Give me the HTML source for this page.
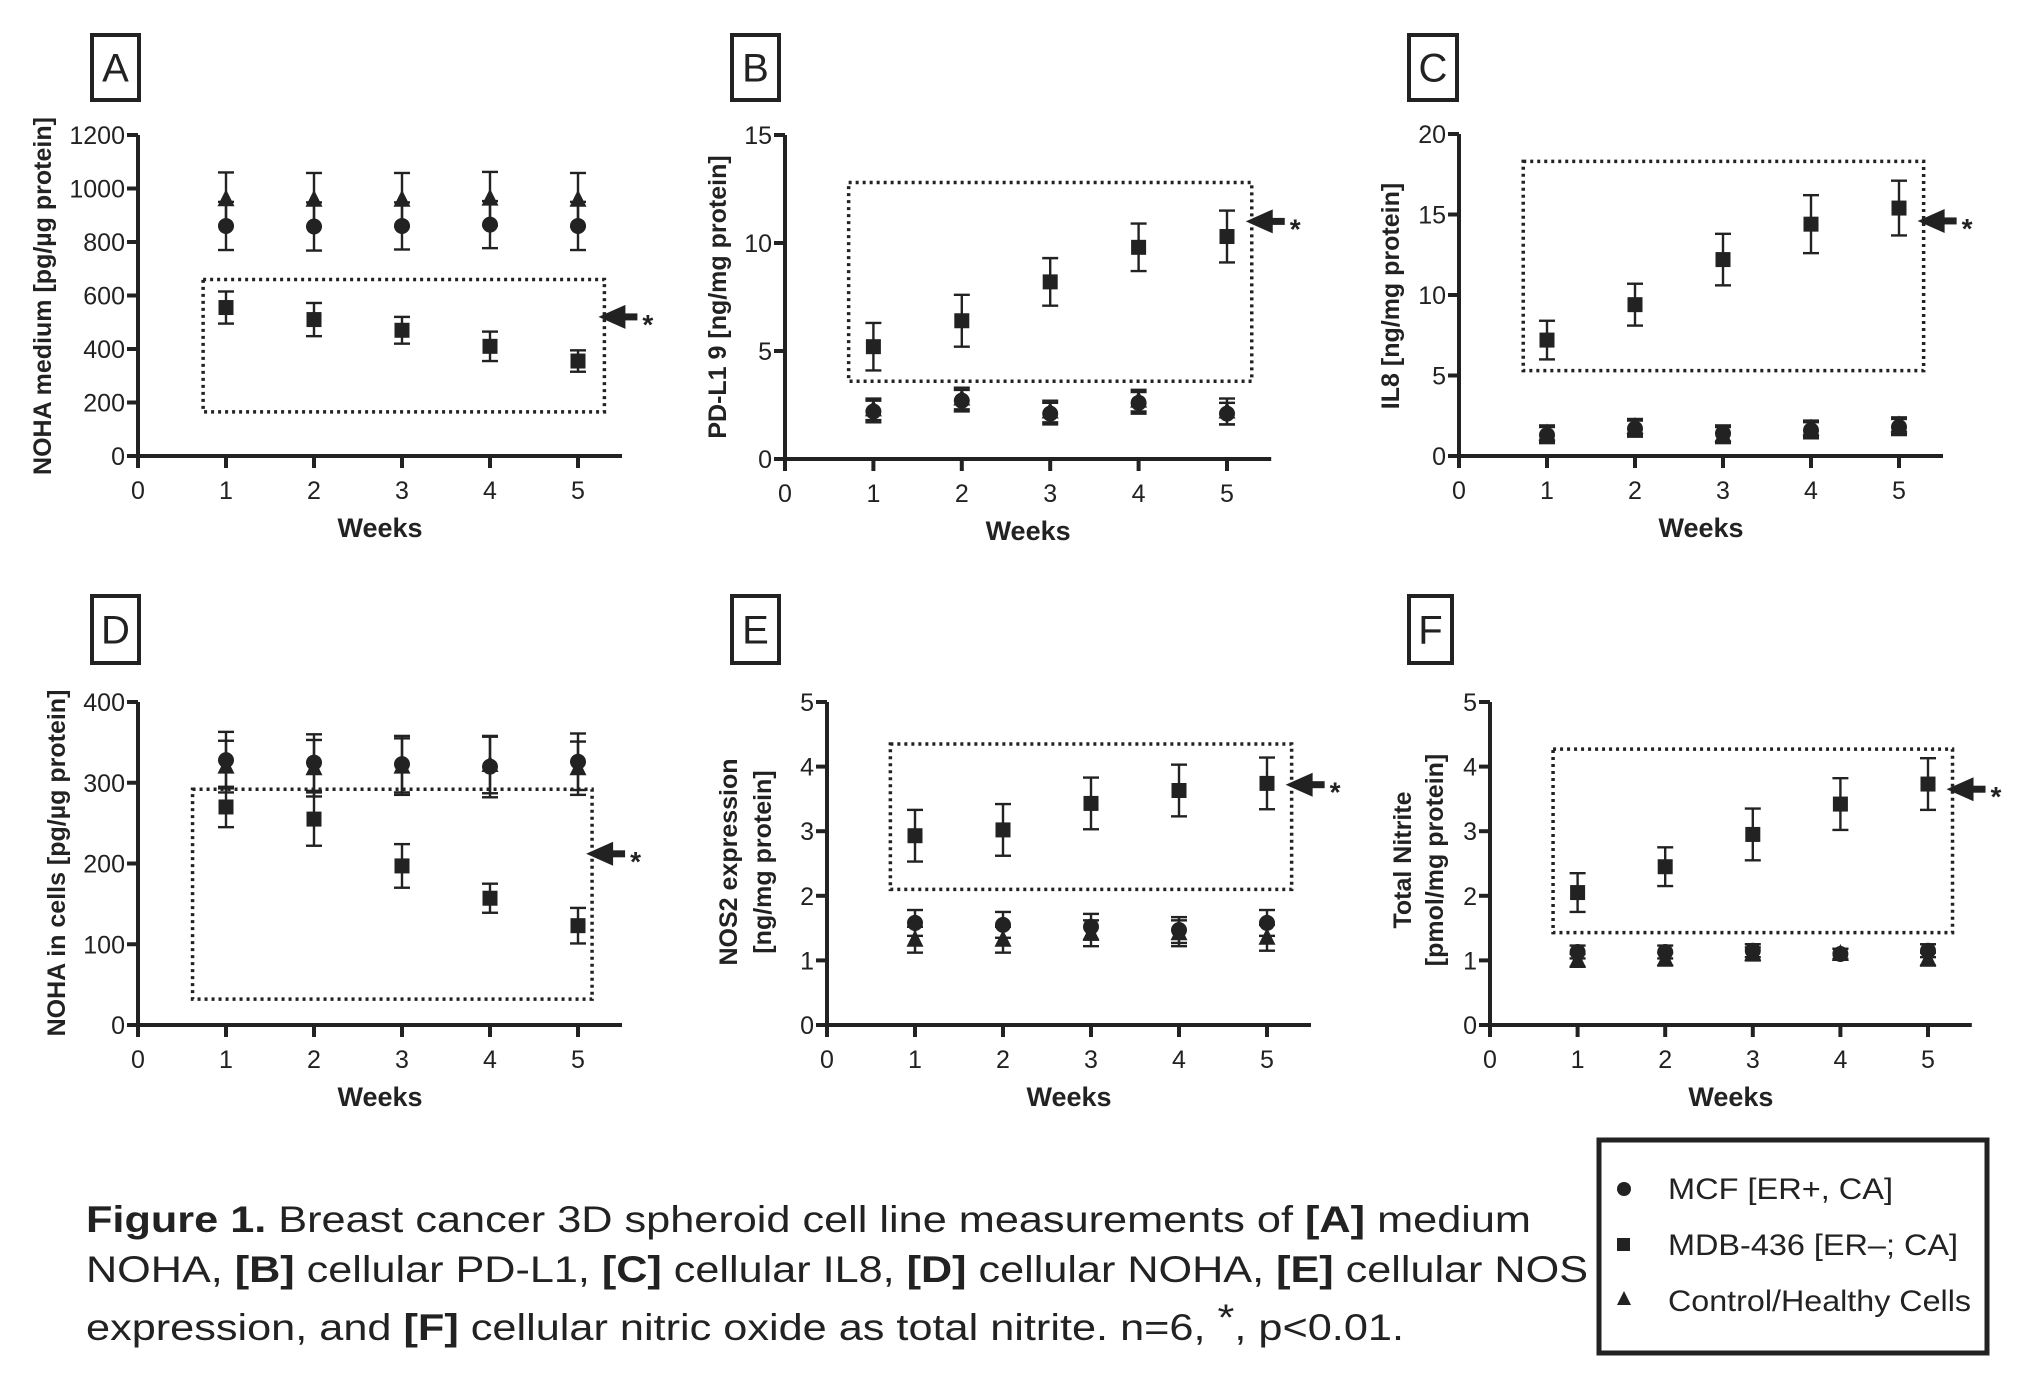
<!DOCTYPE html>
<html><head><meta charset="utf-8"><style>
html,body{margin:0;padding:0;background:#fff;}
svg{display:block;font-family:"Liberation Sans",Arial,sans-serif;}
</style></head><body>
<svg id="fig" width="2023" height="1388" viewBox="0 0 2023 1388" xmlns="http://www.w3.org/2000/svg">
<rect width="2023" height="1388" fill="#fff"/>
<g id="panels"></g>
<g fill="#222" font-size="37">
<text x="86" y="1232" textLength="1445" lengthAdjust="spacingAndGlyphs"><tspan font-weight="bold">Figure 1.</tspan> Breast cancer 3D spheroid cell line measurements of <tspan font-weight="bold">[A]</tspan> medium</text>
<text x="86" y="1282" textLength="1502" lengthAdjust="spacingAndGlyphs">NOHA, <tspan font-weight="bold">[B]</tspan> cellular PD-L1, <tspan font-weight="bold">[C]</tspan> cellular IL8, <tspan font-weight="bold">[D]</tspan> cellular NOHA, <tspan font-weight="bold">[E]</tspan> cellular NOS</text>
<text x="86" y="1340" textLength="1318" lengthAdjust="spacingAndGlyphs">expression, and <tspan font-weight="bold">[F]</tspan> cellular nitric oxide as total nitrite. n=6, <tspan dy="-10">*</tspan><tspan dy="10">, p&lt;0.01.</tspan></text>
</g>
<g>
<rect x="1599" y="1140" width="388" height="213" fill="#fff" stroke="#222" stroke-width="5"/>
<circle cx="1624" cy="1189" r="7" fill="#222"/>
<text x="1668" y="1199" font-size="30" fill="#222" textLength="225" lengthAdjust="spacingAndGlyphs">MCF [ER+, CA]</text>
<rect x="1617" y="1238" width="13" height="13" fill="#222"/>
<text x="1668" y="1255" font-size="30" fill="#222" textLength="290" lengthAdjust="spacingAndGlyphs">MDB-436 [ER–; CA]</text>
<polygon points="1624,1291 1631,1305 1617,1305" fill="#222"/>
<text x="1668" y="1311" font-size="30" fill="#222" textLength="303" lengthAdjust="spacingAndGlyphs">Control/Healthy Cells</text>
</g>
</svg>
<script>
// ---- Panel A: NOHA medium
const weeks = [1, 2, 3, 4, 5];
const aCircle = [860, 858, 860, 865, 860];
const aCircleErr = [90, 90, 88, 88, 90];
const aTri = [960, 958, 958, 962, 958];
const aTriErr = [100, 100, 100, 100, 100];
const aSquare = [555, 510, 470, 410, 355];
const aSquareErr = [60, 62, 50, 55, 40];
const aTicks = [0, 200, 400, 600, 800, 1000, 1200];
// ---- Panel B: PD-L1
const bCircle = [2.2, 2.7, 2.1, 2.6, 2.1];
const bCircleErr = [0.5, 0.5, 0.5, 0.5, 0.5];
const bTri = [2.3, 2.8, 2.2, 2.7, 2.2];
const bTriErr = [0.5, 0.5, 0.5, 0.5, 0.6];
const bSquare = [5.2, 6.4, 8.2, 9.8, 10.3];
const bSquareErr = [1.1, 1.2, 1.1, 1.1, 1.2];
const bTicks = [0, 5, 10, 15];
// ---- Panel C: IL8
const cCircle = [1.3, 1.7, 1.4, 1.6, 1.8];
const cCircleErr = [0.5, 0.5, 0.5, 0.5, 0.5];
const cTri = [1.4, 1.8, 1.3, 1.7, 1.9];
const cTriErr = [0.5, 0.5, 0.5, 0.5, 0.5];
const cSquare = [7.2, 9.4, 12.2, 14.4, 15.4];
const cSquareErr = [1.2, 1.3, 1.6, 1.8, 1.7];
const cTicks = [0, 5, 10, 15, 20];
// ---- Panel D: NOHA in cells
const dCircle = [328, 325, 323, 320, 326];
const dCircleErr = [35, 35, 35, 38, 35];
const dTri = [320, 318, 320, 322, 318];
const dTriErr = [32, 35, 35, 35, 33];
const dSquare = [270, 255, 197, 157, 123];
const dSquareErr = [25, 33, 27, 18, 22];
const dTicks = [0, 100, 200, 300, 400];
// ---- Panel E: NOS2
const eCircle = [1.58, 1.55, 1.52, 1.47, 1.58];
const eCircleErr = [0.2, 0.2, 0.2, 0.2, 0.2];
const eTri = [1.32, 1.32, 1.42, 1.42, 1.35];
const eTriErr = [0.2, 0.2, 0.2, 0.2, 0.2];
const eSquare = [2.93, 3.02, 3.43, 3.63, 3.74];
const eSquareErr = [0.4, 0.4, 0.4, 0.4, 0.4];
const eTicks = [0, 1, 2, 3, 4, 5];
// ---- Panel F: Total nitrite
const fCircle = [1.13, 1.13, 1.15, 1.1, 1.15];
const fCircleErr = [0.1, 0.1, 0.1, 0.08, 0.1];
const fTri = [1.0, 1.02, 1.1, 1.1, 1.02];
const fTriErr = [0.1, 0.1, 0.1, 0.08, 0.1];
const fSquare = [2.05, 2.45, 2.95, 3.42, 3.73];
const fSquareErr = [0.3, 0.3, 0.4, 0.4, 0.4];
const fTicks = [0, 1, 2, 3, 4, 5];
const xTicks = [0, 1, 2, 3, 4, 5];

const NS = "http://www.w3.org/2000/svg";
const root = document.getElementById('panels');
function mk(tag, attrs, parent) {
  const e = document.createElementNS(NS, tag);
  for (const k in attrs) e.setAttribute(k, attrs[k]);
  parent.appendChild(e);
  return e;
}
const C = '#222';

const panels = [
  {id:'a', L:'A', ox:138, unit:88, yTop:135, y0:456, ymax:1200, ticks:aTicks, box:[92,35,47,65],
   title:['NOHA  medium [pg/µg protein]'], tx:[42], ty:296,
   ser:[[aTri,aTriErr,'tri'],[aCircle,aCircleErr,'circle'],[aSquare,aSquareErr,'square']],
   dot:[0.74,5.3,660,165], arrow:520},
  {id:'b', L:'B', ox:785, unit:88.4, yTop:135, y0:459, ymax:15, ticks:bTicks, box:[732,35,47,65],
   title:['PD-L1 9 [ng/mg protein]'], tx:[717], ty:297,
   ser:[[bTri,bTriErr,'tri'],[bCircle,bCircleErr,'circle'],[bSquare,bSquareErr,'square']],
   dot:[0.72,5.28,12.8,3.6], arrow:11.0},
  {id:'c', L:'C', ox:1459, unit:88, yTop:134, y0:456, ymax:20, ticks:cTicks, box:[1409,35,48,65],
   title:['IL8 [ng/mg protein]'], tx:[1390], ty:296,
   ser:[[cTri,cTriErr,'tri'],[cCircle,cCircleErr,'circle'],[cSquare,cSquareErr,'square']],
   dot:[0.73,5.28,18.3,5.3], arrow:14.6},
  {id:'d', L:'D', ox:138, unit:88, yTop:702, y0:1025, ymax:400, ticks:dTicks, box:[92,596,47,67],
   title:['NOHA  in cells [pg/µg protein]'], tx:[56], ty:863,
   ser:[[dTri,dTriErr,'tri'],[dCircle,dCircleErr,'circle'],[dSquare,dSquareErr,'square']],
   dot:[0.62,5.16,292,32], arrow:212},
  {id:'e', L:'E', ox:827, unit:88, yTop:702, y0:1025, ymax:5, ticks:eTicks, box:[732,596,47,67],
   title:['NOS2 expression','[ng/mg protein]'], tx:[728,762], ty:862,
   ser:[[eTri,eTriErr,'tri'],[eCircle,eCircleErr,'circle'],[eSquare,eSquareErr,'square']],
   dot:[0.72,5.28,4.35,2.1], arrow:3.72},
  {id:'f', L:'F', ox:1490, unit:87.6, yTop:702, y0:1025, ymax:5, ticks:fTicks, box:[1409,596,43,67],
   title:['Total Nitrite','[pmol/mg protein]'], tx:[1402,1434], ty:860,
   ser:[[fTri,fTriErr,'tri'],[fCircle,fCircleErr,'circle'],[fSquare,fSquareErr,'square']],
   dot:[0.72,5.28,4.27,1.43], arrow:3.65}
];

panels.forEach(p => {
  const g = mk('g', {}, root);
  
  
  const X = v => p.ox + v * p.unit;
  const Y = v => p.y0 - v / p.ymax * (p.y0 - p.yTop);
  const lb = mk('g', {}, g);
  
  
  mk('rect', {x:p.box[0], y:p.box[1], width:p.box[2], height:p.box[3], fill:'#fff', stroke:C, 'stroke-width':4}, lb);
  const lt = mk('text', {x:p.box[0]+p.box[2]/2, y:p.box[1]+p.box[3]/2+14, 'font-size':40, 'text-anchor':'middle', fill:C}, lb);
  lt.textContent = p.L;
  const ax = mk('g', {stroke:C, 'stroke-width':4, fill:'none'}, g);
  
  
  mk('line', {x1:X(0), y1:Y(p.ymax), x2:X(0), y2:p.y0+2}, ax);
  mk('line', {x1:X(0)-2, y1:p.y0, x2:X(5.5), y2:p.y0}, ax);
  p.ticks.forEach(t => {
    mk('line', {x1:X(0)-11, y1:Y(t), x2:X(0), y2:Y(t)}, ax);
    const tl = mk('text', {x:X(0)-13, y:Y(t)+9, 'font-size':25, 'text-anchor':'end', fill:C, stroke:'none'}, g);
    
    
    tl.textContent = t;
  });
  xTicks.forEach(t => {
    mk('line', {x1:X(t), y1:p.y0, x2:X(t), y2:p.y0+12}, ax);
    const tl = mk('text', {x:X(t), y:p.y0+43, 'font-size':25, 'text-anchor':'middle', fill:C}, g);
    
    
    tl.textContent = t;
  });
  const xt = mk('text', {x:X(2.75), y:p.y0+81, 'font-size':27, 'font-weight':'bold', 'text-anchor':'middle', fill:C}, g);
  
  
  xt.textContent = 'Weeks';
  p.title.forEach((s, i) => {
    const t = mk('text', {x:0, y:0, 'font-size':25, 'font-weight':'bold', 'text-anchor':'middle', fill:C,
      transform:`translate(${p.tx[i]+9},${p.ty}) rotate(-90)`}, g);
    
    
    t.textContent = s;
  });
  const db = mk('rect', {x:X(p.dot[0]), y:Y(p.dot[2]), width:X(p.dot[1])-X(p.dot[0]), height:Y(p.dot[3])-Y(p.dot[2]),
    fill:'none', stroke:C, 'stroke-width':3.5, 'stroke-dasharray':'3 4'}, g);
  
  
  const tipX = X(p.dot[1]) - 6, ay = Y(p.arrow);
  const ar = mk('g', {fill:C}, g);
  
  
  mk('polygon', {points:`${tipX},${ay} ${tipX+27},${ay-12} ${tipX+27},${ay+12}`}, ar);
  mk('rect', {x:tipX+26, y:ay-3.5, width:13, height:7}, ar);
  const st = mk('text', {x:tipX+44, y:ay+17, 'font-size':28, 'font-weight':'bold', fill:C}, ar);
  st.textContent = '*';
  p.ser.forEach(([vals, errs, shape]) => {
    const sg = mk('g', {}, g);
    
    
    vals.forEach((v, i) => {
      const cx = X(weeks[i]), cy = Y(v), yh = Y(v + errs[i]), yl = Y(v - errs[i]);
      const eb = mk('g', {stroke:C, 'stroke-width':2.4}, sg);
      
      
      mk('line', {x1:cx, y1:yh, x2:cx, y2:yl}, eb);
      mk('line', {x1:cx-8, y1:yh, x2:cx+8, y2:yh}, eb);
      mk('line', {x1:cx-8, y1:yl, x2:cx+8, y2:yl}, eb);
      let m;
      if (shape === 'circle') m = mk('circle', {cx:cx, cy:cy, r:8, fill:C}, sg);
      else if (shape === 'square') m = mk('rect', {x:cx-7.5, y:cy-7.5, width:15, height:15, fill:C}, sg);
      else m = mk('polygon', {points:`${cx},${cy-10} ${cx+8.5},${cy+7} ${cx-8.5},${cy+7}`, fill:C}, sg);
      
      
    });
  });
});
</script>
</body></html>
